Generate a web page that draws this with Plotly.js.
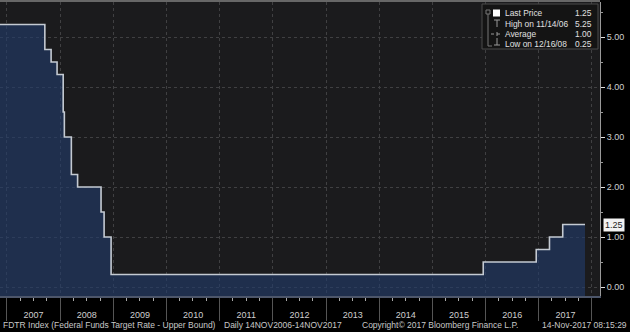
<!DOCTYPE html>
<html>
<head>
<meta charset="utf-8">
<script src="https://cdn.plot.ly/plotly-3.0.1.min.js"></script>
<style>
html,body{margin:0;padding:0;background:#000;}
#chart{width:630px;height:332px;}
</style>
</head>
<body>
<div id="chart"></div>
<script>
// Federal Funds Target Rate - Upper Bound (step changes)
const dates = ['2006-11-14','2007-09-18','2007-10-31','2007-12-11','2008-01-22','2008-01-30',
  '2008-03-18','2008-04-30','2008-10-08','2008-10-29','2008-12-16','2015-12-16',
  '2016-12-14','2017-03-15','2017-06-14','2017-11-14'];
const rates = [5.25,4.75,4.50,4.25,3.50,3.00,2.25,2.00,1.50,1.00,0.25,0.50,0.75,1.00,1.25,1.25];

const legendLabels = ['Last Price','High on 11/14/06','Average','Low on 12/16/08'];
const legendValues = ['1.25','5.25','1.00','0.25'];
const lastPrice = 1.25;

const footerTexts = ['FDTR Index (Federal Funds Target Rate - Upper Bound)',
  'Daily 14NOV2006-14NOV2017',
  'Copyright\u00A9 2017 Bloomberg Finance L.P.',
  '14-Nov-2017 08:15:29'];

const YMIN = -0.18, YMAX = 5.7;
const FONT = 'Liberation Sans, Arial, sans-serif';

const baseline = {
  x: dates, y: dates.map(() => YMIN), type: 'scatter', mode: 'lines',
  line: {width: 0, shape: 'hv'}, hoverinfo: 'skip', showlegend: false
};
const series = {
  x: dates, y: rates, type: 'scatter', mode: 'lines',
  line: {color: '#c4cad2', width: 1.6, shape: 'hv'},
  fill: 'tonexty', fillcolor: 'rgba(34,59,107,0.62)',
  showlegend: false
};

// paper coords helpers for the custom legend box (plot area 600x294 px)
const px = v => v / 600;
const py = v => (296 - v) / 294;

const shapes = [
  {type:'line', xref:'paper', yref:'paper', x0:0, x1:1, y0:py(1), y1:py(1), line:{color:'#8a8a8a', width:1.5}},
  {type:'rect', xref:'paper', yref:'paper', x0:px(482), x1:px(598), y0:py(49), y1:py(4),
    fillcolor:'#141414', line:{color:'#4a4a4a', width:1}},
  // bracket
  {type:'rect', xref:'paper', yref:'paper', x0:px(486), x1:px(490), y0:py(14), y1:py(10), fillcolor:'rgba(0,0,0,0)', line:{color:'#777', width:1}},
  {type:'line', xref:'paper', yref:'paper', x0:px(488), x1:px(488), y0:py(14), y1:py(46), line:{color:'#777', width:1}},
  {type:'line', xref:'paper', yref:'paper', x0:px(488), x1:px(492), y0:py(46), y1:py(46), line:{color:'#777', width:1}},
  // white square
  {type:'rect', xref:'paper', yref:'paper', x0:px(493), x1:px(500), y0:py(16.5), y1:py(9.5), fillcolor:'#ffffff', line:{width:0}},
  // high glyph
  {type:'line', xref:'paper', yref:'paper', x0:px(494), x1:px(500), y0:py(20), y1:py(20), line:{color:'#999', width:1}},
  {type:'line', xref:'paper', yref:'paper', x0:px(497), x1:px(497), y0:py(20), y1:py(27), line:{color:'#999', width:1}},
  // average glyph
  {type:'line', xref:'paper', yref:'paper', x0:px(491), x1:px(502), y0:py(34), y1:py(34), line:{color:'#999', width:1, dash:'dot'}},
  {type:'line', xref:'paper', yref:'paper', x0:px(497), x1:px(497), y0:py(32), y1:py(36), line:{color:'#999', width:1}},
  // low glyph
  {type:'line', xref:'paper', yref:'paper', x0:px(497), x1:px(497), y0:py(38), y1:py(45), line:{color:'#999', width:1}},
  {type:'line', xref:'paper', yref:'paper', x0:px(494), x1:px(500), y0:py(45), y1:py(45), line:{color:'#999', width:1}}
];

const annotations = [];
const rowY = [13.5, 24, 34, 44];
legendLabels.forEach((t, i) => {
  annotations.push({xref:'paper', yref:'paper', x:px(503), y:py(rowY[i]), text:t, showarrow:false,
    xanchor:'left', yanchor:'middle', font:{family:FONT, size:8.4, color:'#e0e0e0'}});
  annotations.push({xref:'paper', yref:'paper', x:px(594), y:py(rowY[i]), text:legendValues[i], showarrow:false,
    xanchor:'right', yanchor:'middle', font:{family:FONT, size:8.4, color:'#e0e0e0'}});
});
// last price tag
annotations.push({xref:'paper', yref:'y', x:1, y:lastPrice, xshift:3, text:lastPrice.toFixed(2), showarrow:false,
  xanchor:'left', yanchor:'middle', bgcolor:'#f2f2f2', borderpad:1,
  font:{family:FONT, size:9, color:'#222'}});
// footer
const footerX = [1, 222, 360, 629];
const footerAnchor = ['left','left','left','right'];
footerTexts.forEach((t, i) => {
  annotations.push({xref:'paper', yref:'paper', x:footerX[i]/600, y:0, yshift:-29, text:t, showarrow:false,
    xanchor:footerAnchor[i], yanchor:'middle', font:{family:FONT, size:8.5, color:'#c8c8c8'}});
});

const layout = {
  width: 630, height: 332,
  margin: {l:0, r:30, t:2, b:36, pad:0},
  paper_bgcolor: '#000000',
  plot_bgcolor: '#1b1b1d',
  showlegend: false,
  xaxis: {
    type:'date', range:['2006-11-14','2018-02-25'],
    tick0:'2007-01-01', dtick:'M12', tickformat:'%Y', ticklabelmode:'period',
    ticks:'outside', ticklen:23, tickcolor:'#555', tickwidth:1,
    ticklabelstandoff:-13,
    tickfont:{family:FONT, size:9, color:'#cfcfcf'},
    showgrid:true, gridcolor:'#404042', griddash:'dot', gridwidth:1,
    showline:true, linecolor:'#4d566a', linewidth:1.5,
    minor:{dtick:'M3', ticks:'outside', ticklen:3, tickcolor:'#aaa', showgrid:false},
    zeroline:false, fixedrange:true
  },
  yaxis: {
    side:'right', range:[YMIN, YMAX], dtick:1, tick0:0, tickformat:'.2f',
    ticks:'outside', ticklen:4, tickcolor:'#ddd', tickwidth:1,
    tickfont:{family:FONT, size:9, color:'#d0d0d0'},
    showgrid:true, gridcolor:'#404042', griddash:'dot', gridwidth:1,
    showline:true, linecolor:'#9a9a9a', linewidth:1,
    minor:{dtick:0.5, ticks:'outside', ticklen:2, tickcolor:'#999', showgrid:false},
    zeroline:false, fixedrange:true
  },
  shapes: shapes,
  annotations: annotations
};

Plotly.newPlot('chart', [baseline, series], layout, {displayModeBar:false, staticPlot:true});
</script>
</body>
</html>
